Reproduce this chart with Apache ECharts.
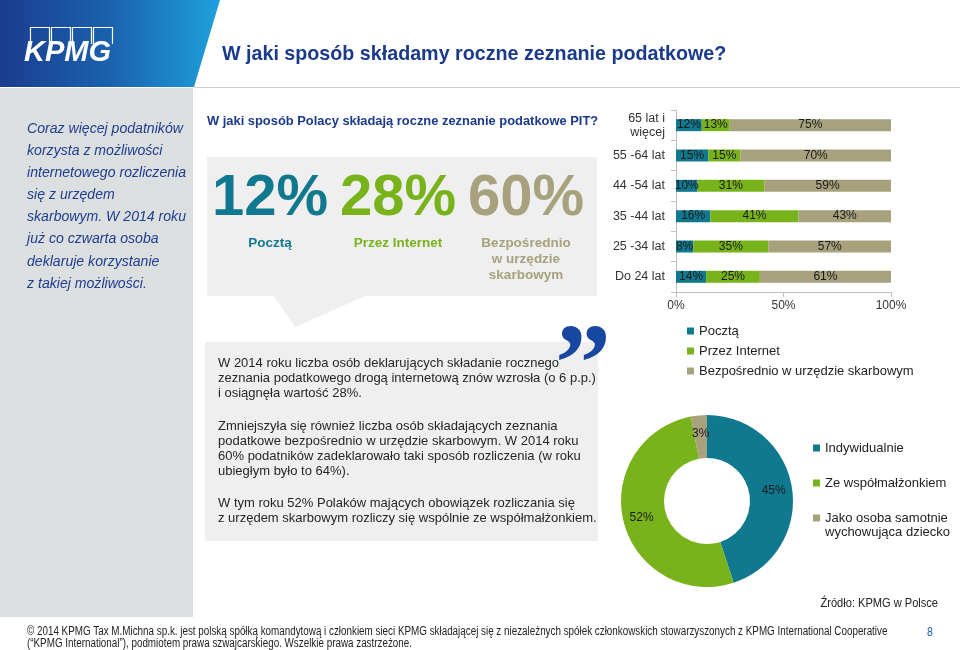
<!DOCTYPE html>
<html>
<head>
<meta charset="utf-8">
<script src="https://cdn.jsdelivr.net/npm/echarts@6/dist/echarts.min.js"></script>
<style>
html,body{margin:0;padding:0;background:#fff;}
#chart{width:960px;height:650px;}
</style>
</head>
<body>
<div id="chart"></div>
<script>
// ---- data ----
const categories = ['65 lat i\nwięcej', '55 -64 lat', '44 -54 lat', '35 -44 lat', '25 -34 lat', 'Do 24 lat'];
const seriesNames = ['Pocztą', 'Przez Internet', 'Bezpośrednio w urzędzie skarbowym'];
const poczta = [12, 15, 10, 16, 8, 14];
const internet = [13, 15, 31, 41, 35, 25];
const urzad = [75, 70, 59, 43, 57, 61];
const xTickMin = 0, xTickMax = 100, xTickStep = 50;

const overallValues = [12, 28, 60];
const overallLabels = ['Pocztą', 'Przez Internet', 'Bezpośrednio\nw urzędzie\nskarbowym'];

const pieNames = ['Indywidualnie', 'Ze współmałżonkiem', 'Jako osoba samotnie\nwychowująca dziecko'];
const pieValues = [45, 52, 3];

// ---- styles ----
const COLORS = ['#11798f', '#79b31b', '#a7a17d'];
const FONT = '"Liberation Sans", Arial, sans-serif';
const NAVY = '#1b3a8c';

const chart = echarts.init(document.getElementById('chart'), null, {renderer: 'canvas'});

function txt(text, x, y, font, fill, align, extra) {
  return Object.assign({
    type: 'text', silent: true,
    style: {text: text, x: x, y: y, font: font, fill: fill, align: align || 'left', verticalAlign: 'middle'}
  }, extra || {});
}
function narrowTxt(text, x, y, size, fill, align) {
  return {
    type: 'text', silent: true, x: x, y: y, scaleX: 0.82, scaleY: 1,
    style: {text: text, x: 0, y: 0, font: size + 'px ' + FONT, fill: fill, align: align || 'left', verticalAlign: 'middle'}
  };
}

const graphics = [];
// header gradient block
graphics.push({
  type: 'polygon', silent: true, z: 0,
  shape: {points: [[0, 0], [220, 0], [194, 87], [0, 87]]},
  style: {fill: new echarts.graphic.LinearGradient(0, 0, 1, 0, [
    {offset: 0, color: '#1b3c8f'}, {offset: 0.5, color: '#1a62ad'}, {offset: 1, color: '#1fa0dc'}])}
});
// KPMG logo boxes (open at the bottom, letters overlap)
[30, 51, 72, 93].forEach(function (bx) {
  graphics.push({type: 'polyline', silent: true, z: 1,
    shape: {points: [[bx + 0.5, 44], [bx + 0.5, 27.5], [bx + 19.5, 27.5], [bx + 19.5, 44]]},
    style: {fill: 'none', stroke: '#ffffff', lineWidth: 1.2}});
});
graphics.push(txt('KPMG', 24, 53, 'italic bold 29px ' + FONT, '#ffffff', 'left', {z: 2}));
// title
graphics.push(txt('W jaki sposób składamy roczne zeznanie podatkowe?', 222, 55, 'bold 19.7px ' + FONT, NAVY));
// header separator
graphics.push({type: 'line', silent: true, shape: {x1: 194, y1: 87.5, x2: 960, y2: 87.5}, style: {stroke: '#cfcfcf', lineWidth: 1}});
// left panel
graphics.push({type: 'rect', silent: true, shape: {x: 0, y: 88, width: 193, height: 529}, style: {fill: '#dcdfe0'}});
const leftLines = ['Coraz więcej podatników', 'korzysta z możliwości', 'internetowego rozliczenia', 'się z urzędem',
  'skarbowym. W 2014 roku', 'już co czwarta osoba', 'deklaruje korzystanie', 'z takiej możliwości.'];
leftLines.forEach(function (l, i) {
  graphics.push(txt(l, 27, 129 + i * 22.1, 'italic 14.1px ' + FONT, '#1f3d8f'));
});
// question
graphics.push(txt('W jaki sposób Polacy składają roczne zeznanie podatkowe PIT?', 207, 121, 'bold 12.9px ' + FONT, NAVY));
// big numbers box + pointer
graphics.push({type: 'rect', silent: true, shape: {x: 207, y: 157, width: 390, height: 139}, style: {fill: '#efefef'}});
graphics.push({type: 'polygon', silent: true, shape: {points: [[273, 295], [295, 327], [368, 295]]}, style: {fill: '#efefef'}});
const bigX = [270, 398, 526];
overallValues.forEach(function (v, i) {
  graphics.push(txt(v + '%', bigX[i], 199, 'bold 58px ' + FONT, COLORS[i], 'center'));
  graphics.push({type: 'text', silent: true, style: {text: overallLabels[i], x: bigX[i], y: 235,
    font: 'bold 13.5px ' + FONT, fill: COLORS[i], align: 'center', verticalAlign: 'top', lineHeight: 16}});
});
// text box
graphics.push({type: 'rect', silent: true, shape: {x: 205, y: 342, width: 393, height: 199}, style: {fill: '#efefef'}});
const paras = [
  ['W 2014 roku liczba osób deklarujących składanie rocznego', 'zeznania podatkowego drogą internetową znów wzrosła (o 6 p.p.)', 'i osiągnęła wartość 28%.'],
  ['Zmniejszyła się również liczba osób składających zeznania', 'podatkowe bezpośrednio w urzędzie skarbowym. W 2014 roku', '60% podatników zadeklarowało taki sposób rozliczenia (w roku', 'ubiegłym było to 64%).'],
  ['W tym roku 52% Polaków mających obowiązek rozliczania się', 'z urzędem skarbowym rozliczy się wspólnie ze współmałżonkiem.']
];
const paraTop = [363, 426, 503];
paras.forEach(function (p, pi) {
  p.forEach(function (l, li) {
    graphics.push(txt(l, 218, paraTop[pi] + li * 15.2, '13px ' + FONT, '#262626'));
  });
});
// quote mark
graphics.push({type: 'text', silent: true, z: 5, style: {text: '\u201D', x: 583, y: 316, font: 'bold 112px "Liberation Serif", serif',
  fill: '#1747a0', align: 'center', verticalAlign: 'top'}});
// source + footer
graphics.push(narrowTxt('Źródło: KPMG w Polsce', 938, 603, 13.5, '#222', 'right'));
graphics.push(narrowTxt('© 2014 KPMG Tax M.Michna sp.k. jest polską spółką komandytową i członkiem sieci KPMG składającej się z niezależnych spółek członkowskich stowarzyszonych z KPMG International Cooperative', 27, 632, 12, '#222'));
graphics.push(narrowTxt('(“KPMG International”), podmiotem prawa szwajcarskiego. Wszelkie prawa zastrzeżone.', 27, 644, 12, '#222'));
graphics.push(narrowTxt('8', 930, 632, 13, '#1a5fb4', 'center'));

const barValues = [poczta, internet, urzad];
const barSeries = barValues.map(function (vals, i) {
  return {
    type: 'bar', name: seriesNames[i], stack: 'total', data: vals, barWidth: 12,
    itemStyle: {color: COLORS[i]},
    label: {show: true, position: 'inside', formatter: '{c}%', fontSize: 12, fontFamily: FONT, color: '#1a1a1a'},
    emphasis: {disabled: true}
  };
});

const legendText = {fontSize: 13, color: '#222', lineHeight: 14};
const option = {
  animation: false,
  textStyle: {fontFamily: FONT},
  graphic: {elements: graphics},
  grid: {left: 676, right: 69, top: 110, bottom: 358, containLabel: false},
  xAxis: {
    type: 'value', min: xTickMin, max: xTickMax, interval: xTickStep,
    axisLine: {show: true, lineStyle: {color: '#c0c0c0'}},
    axisTick: {show: true, length: 5, lineStyle: {color: '#c0c0c0'}},
    splitLine: {show: false},
    axisLabel: {formatter: '{value}%', fontSize: 12, color: '#333', margin: 8}
  },
  yAxis: {
    type: 'category', data: categories, inverse: true,
    axisLine: {show: true, lineStyle: {color: '#c0c0c0'}},
    axisTick: {show: true, length: 5, lineStyle: {color: '#c0c0c0'}},
    axisLabel: {fontSize: 12.5, color: '#333', margin: 11, lineHeight: 14}
  },
  legend: [
    {
      data: seriesNames, orient: 'vertical', left: 682, top: 319, itemWidth: 7, itemHeight: 7, itemGap: 6,
      icon: 'rect', selectedMode: false, itemStyle: {borderWidth: 0}, textStyle: legendText
    },
    {
      data: [pieNames[0], pieNames[1]], orient: 'vertical', left: 808, top: 436, itemWidth: 7, itemHeight: 7, itemGap: 21,
      icon: 'rect', selectedMode: false, itemStyle: {borderWidth: 0}, textStyle: legendText
    },
    {
      data: [pieNames[2]], orient: 'vertical', left: 808, top: 492,
      itemWidth: 7, itemHeight: 7, icon: 'rect', selectedMode: false, itemStyle: {borderWidth: 0},
      formatter: function (name) { return '\n' + name; },
      textStyle: legendText
    }
  ],
  series: barSeries.concat([{
    type: 'pie', center: [707, 501], radius: [43, 86], startAngle: 90, clockwise: true,
    data: pieValues.map(function (v, i) { return {name: pieNames[i], value: v, itemStyle: {color: COLORS[i]}}; }),
    label: {show: true, position: 'inside', formatter: '{c}%', fontSize: 12, color: '#1a1a1a', fontFamily: FONT},
    labelLine: {show: false},
    emphasis: {disabled: true}
  }])
};
chart.setOption(option);
</script>
</body>
</html>
